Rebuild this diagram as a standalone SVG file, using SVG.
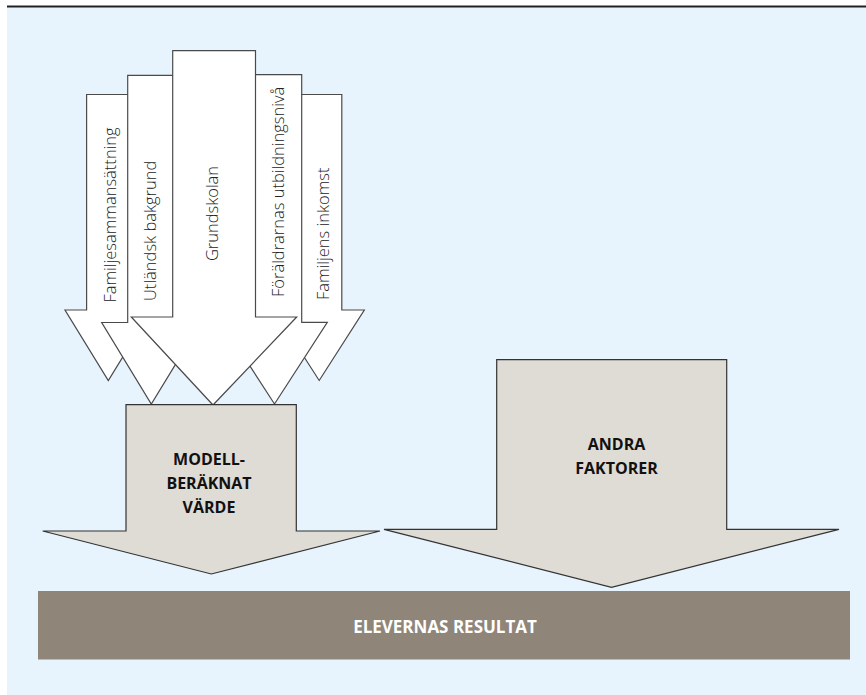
<svg xmlns="http://www.w3.org/2000/svg" width="866" height="695" viewBox="0 0 866 695">
  <style>
    .bg { fill: #e7f4fd; }
    .topline { stroke: #222; stroke-width: 2; }
    .in { fill: #ffffff; stroke: #4a4a4a; stroke-width: 1.2; stroke-linejoin: miter; }
    .big { fill: #dfdbd5; stroke: #333; stroke-width: 1.2; }
    .bar { fill: #8f8579; }
    .vt { font-family: "Open Sans", "Liberation Sans", sans-serif; font-weight: 300; font-size: 16.5px; fill: #222; }
    .bt { font-family: "Open Sans", "Liberation Sans", sans-serif; font-weight: 700; font-size: 16px; fill: #111; text-anchor: middle; }
    .wt { fill: #ffffff; font-size: 17px; }
  </style>
  <rect class="bg" x="7" y="7" width="859" height="688"/>
  <line class="topline" x1="7" y1="6.5" x2="866" y2="6.5"/>

  <g id="connectors"></g>

  <g id="familjesammansattning">
    <polygon class="in" points="86.6,94.5 130,94.5 130,310 151.6,310 108.3,380.5 65,310 86.6,310"/>
    <text class="vt" transform="translate(115.5,302.5) rotate(-90)">Familjesammansättning</text>
  </g>
  <g id="familjens-inkomst">
    <polygon class="in" points="296.5,94.5 341.8,94.5 341.8,310 364.3,310 319.2,380.5 274,310 296.5,310"/>
    <text class="vt" transform="translate(328.8,300) rotate(-90)">Familjens inkomst</text>
  </g>
  <g id="utlandsk-bakgrund">
    <polygon class="in" points="127.7,75.3 175,75.3 175,322.5 201,322.5 151.3,404 101.7,322.5 127.7,322.5"/>
    <text class="vt" transform="translate(155.5,301) rotate(-90)">Utländsk bakgrund</text>
  </g>
  <g id="foraldrarnas-utbildningsniva">
    <polygon class="in" points="248,74.7 301.7,74.7 301.7,322.3 327.3,322.3 274.5,404 221.7,322.3 248,322.3"/>
    <text class="vt" transform="translate(283.8,297) rotate(-90)">Föräldrarnas utbildningsnivå</text>
  </g>
  <g id="grundskolan">
    <polygon class="in" points="172.7,50.7 255.5,50.7 255.5,317 296.7,317 213,405 131.3,317 172.7,317"/>
    <text class="vt" text-anchor="middle" transform="translate(217.8,213.5) rotate(-90)">Grundskolan</text>
  </g>

  <g id="modellberaknat-varde">
    <polygon class="big" points="126,404.7 296.3,404.7 296.3,531 380,531 211.3,574 42.7,531 126,531"/>
    <text class="bt" x="209" y="465">MODELL-</text>
    <text class="bt" x="209" y="489">BERÄKNAT</text>
    <text class="bt" x="209" y="512.7">VÄRDE</text>
  </g>

  <g id="andra-faktorer">
    <polygon class="big" points="496.7,359.7 726.7,359.7 726.7,529.3 839,529.3 611.5,587.3 384,529.3 496.7,529.3"/>
    <text class="bt" x="616.5" y="450">ANDRA</text>
    <text class="bt" x="616.5" y="474">FAKTORER</text>
  </g>

  <g id="elevernas-resultat">
    <rect class="bar" x="38" y="591" width="812" height="68.5"/>
    <text class="bt wt" x="445" y="632.7">ELEVERNAS RESULTAT</text>
  </g>
</svg>
